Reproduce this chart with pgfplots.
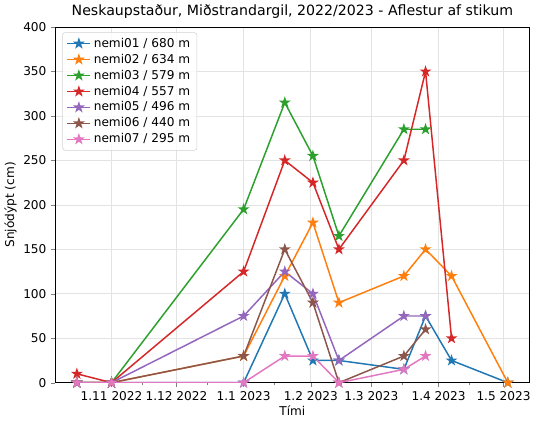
\documentclass[border=0pt]{standalone}
\usepackage{fontspec}
\setmainfont{DejaVu Sans}
\usepackage{pgfplots}
\pgfplotsset{compat=1.18}

\definecolor{c0}{HTML}{1F77B4}
\definecolor{c1}{HTML}{FF7F0E}
\definecolor{c2}{HTML}{2CA02C}
\definecolor{c3}{HTML}{D62728}
\definecolor{c4}{HTML}{9467BD}
\definecolor{c5}{HTML}{8C564B}
\definecolor{c6}{HTML}{E377C2}

% filled five-pointed star, like matplotlib's '*'
\pgfdeclareplotmark{fstar}{%
  \pgfpathmoveto{\pgfpointpolar{90}{\pgfplotmarksize}}%
  \pgfpathlineto{\pgfpointpolar{126}{0.382\pgfplotmarksize}}%
  \pgfpathlineto{\pgfpointpolar{162}{\pgfplotmarksize}}%
  \pgfpathlineto{\pgfpointpolar{198}{0.382\pgfplotmarksize}}%
  \pgfpathlineto{\pgfpointpolar{234}{\pgfplotmarksize}}%
  \pgfpathlineto{\pgfpointpolar{270}{0.382\pgfplotmarksize}}%
  \pgfpathlineto{\pgfpointpolar{306}{\pgfplotmarksize}}%
  \pgfpathlineto{\pgfpointpolar{342}{0.382\pgfplotmarksize}}%
  \pgfpathlineto{\pgfpointpolar{18}{\pgfplotmarksize}}%
  \pgfpathlineto{\pgfpointpolar{54}{0.382\pgfplotmarksize}}%
  \pgfpathclose\pgfusepathqfillstroke}

% x = days after 1 Nov 2022
\begin{document}
\begin{tikzpicture}
\begin{axis}[
  scale only axis,
  width=352pt, height=264pt,
  font=\fontsize{9}{11}\selectfont,
  title={Neskaupstaður, Miðstrandargil, 2022/2023 - Aflestur af stikum},
  title style={font=\fontsize{10.5}{12}\selectfont, yshift=-3pt},
  xlabel={Tími}, ylabel={Snjódýpt (cm)},
  xlabel style={yshift=3pt}, ylabel style={yshift=-2pt},
  xmin=-26, xmax=193, ymin=0, ymax=400,
  xtick={0,30,61,92,120,151,181},
  xticklabels={1.11 2022,1.12 2022,1.1 2023,1.2 2023,1.3 2023,1.4 2023,1.5 2023},
  minor xtick={-17,14,44,75,106,134,165},
  ytick={0,50,...,400},
  tick align=outside, tick pos=left,
  major tick length=3pt, minor tick length=2pt,
  /pgf/number format/assume math mode=true,
  grid=major,
  major grid style={gray!22, line width=0.5pt},
  axis line style={line width=0.6pt},
  every axis plot/.append style={line width=1.1pt, mark=fstar, mark size=2.9pt},
  legend style={at={(0.015,0.985)}, anchor=north west, draw=gray!35,
    rounded corners=2pt, fill=white, fill opacity=0.8, text opacity=1,
    font=\fontsize{9}{11}\selectfont, row sep=-0.5pt},
  legend cell align=left,
]
\addplot[c0] coordinates {(-16,0)(0,0)(61,0)(80,100)(93,25)(105,25)(135,15)(145,75)(157,25)(183,0)};
\addlegendentry{nemi01 / 680 m}
\addplot[c1] coordinates {(-16,0)(0,0)(61,30)(80,120)(93,180)(105,90)(135,120)(145,150)(157,120)(183,0)};
\addlegendentry{nemi02 / 634 m}
\addplot[c2] coordinates {(-16,0)(0,0)(61,195)(80,315)(93,255)(105,165)(135,285)(145,285)};
\addlegendentry{nemi03 / 579 m}
\addplot[c3] coordinates {(-16,10)(0,0)(61,125)(80,250)(93,225)(105,150)(135,250)(145,350)(157,50)};
\addlegendentry{nemi04 / 557 m}
\addplot[c4] coordinates {(-16,0)(0,0)(61,75)(80,125)(93,100)(105,25)(135,75)(145,75)};
\addlegendentry{nemi05 / 496 m}
\addplot[c5] coordinates {(-16,0)(0,0)(61,30)(80,150)(93,90)(105,0)(135,30)(145,60)};
\addlegendentry{nemi06 / 440 m}
\addplot[c6] coordinates {(-16,0)(0,0)(61,0)(80,30)(93,30)(105,0)(135,15)(145,30)};
\addlegendentry{nemi07 / 295 m}
\end{axis}
\end{tikzpicture}
\end{document}
